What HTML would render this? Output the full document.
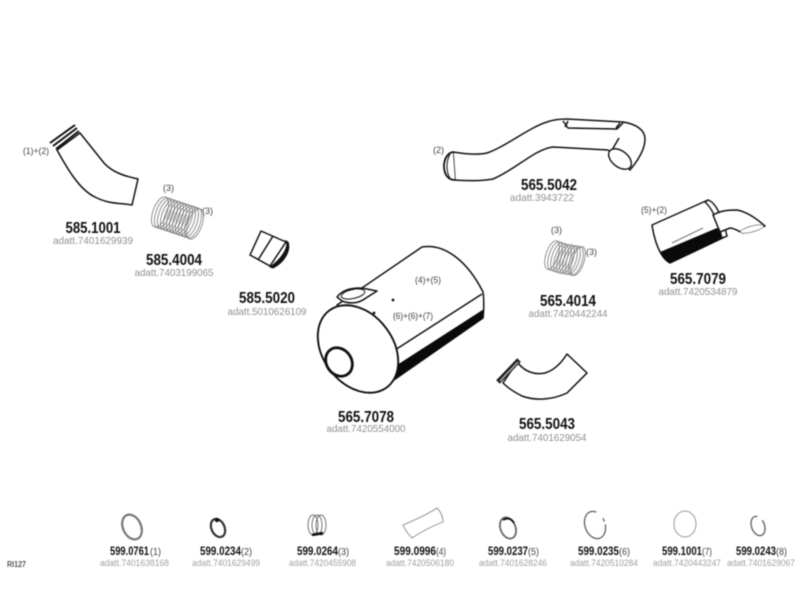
<!DOCTYPE html>
<html><head><meta charset="utf-8"><style>
html,body{margin:0;padding:0;background:#fff}
svg{display:block;filter:blur(.5px)}
text{font-family:"Liberation Sans",sans-serif}
.b{font-weight:bold;fill:#111;font-size:16px;text-anchor:middle}
.g{fill:#909090;font-size:10.5px;text-anchor:middle}
.s{fill:#444;font-size:9px}
.n{fill:#444;font-size:10px}
.bb{font-weight:bold;fill:#111;font-size:12px}
.gg{fill:#a0a0a0;font-size:9.5px}
.p{fill:none;stroke:#111;stroke-width:1.5;stroke-linejoin:round}
.w{fill:#fff;stroke:#111;stroke-width:1.5;stroke-linejoin:round}
.sp ellipse{fill:none;stroke:#777;stroke-width:.8}
</style></head><body>
<svg width="800" height="600" viewBox="0 0 800 600" xmlns="http://www.w3.org/2000/svg">
<rect width="800" height="600" fill="#fff"/>

<!-- 585.1001 -->
<path class="w" d="M57 150C68 170 80 190 95 197C108 204 120 203 132 205L138 179C124 176 112 172 104 163C96 153 88 143 80 133Z"/>
<g stroke="#111" stroke-width="2"><path d="M50 143L75 125M53 146L77 128M56 149L79 131"/></g>

<!-- 585.4004 spring -->
<g class="sp">
<ellipse cx="160" cy="212" rx="7" ry="16" transform="rotate(20 160 212)"/>
<ellipse cx="163" cy="213" rx="7" ry="16" transform="rotate(20 163 213)"/>
<ellipse cx="166" cy="214" rx="7" ry="16" transform="rotate(20 166 214)"/>
<ellipse cx="169" cy="215" rx="7" ry="16" transform="rotate(20 169 215)"/>
<ellipse cx="172" cy="216" rx="7" ry="16" transform="rotate(20 172 216)"/>
<ellipse cx="175" cy="217" rx="7" ry="16" transform="rotate(20 175 217)"/>
<ellipse cx="178" cy="218" rx="7" ry="16" transform="rotate(20 178 218)"/>
<ellipse cx="181" cy="219" rx="7" ry="16" transform="rotate(20 181 219)"/>
<ellipse cx="184" cy="220" rx="7" ry="16" transform="rotate(20 184 220)"/>
<ellipse cx="187" cy="221" rx="7" ry="16" transform="rotate(20 187 221)"/>
<ellipse cx="190" cy="222" rx="7" ry="16" transform="rotate(20 190 222)"/>
<ellipse cx="193" cy="223" rx="7" ry="16" transform="rotate(20 193 223)"/>
<ellipse cx="195" cy="224" rx="7" ry="16" transform="rotate(20 195 224)"/>
</g>

<!-- 585.5020 -->
<path class="w" d="M261 231L286 242L270 266L250 255Z"/>
<path class="p" d="M273 236L258 260" stroke-width="1"/>
<path d="M286 241C289 246 283 258 270 267L273 268C285 262 291 250 288 242Z" fill="#111" stroke="#111"/>

<!-- 565.7078 muffler -->
<path class="w" d="M337 305L422 247C445 243 468 262 483 292C484 298 484 310 483 318L378 391L370 392Z"/>
<path d="M396 366L483 310L483 318L393 380C396 375 397 372 396 366Z" fill="#0a0a0a" stroke="#0a0a0a" stroke-width=".6"/>
<path class="p" d="M395 350L482 294"/>
<ellipse cx="358" cy="349" rx="48" ry="35" transform="rotate(53 358 349)" fill="#fff" stroke="#111" stroke-width="1.9"/>
<ellipse cx="339" cy="362" rx="12.5" ry="15" transform="rotate(-35 339 362)" fill="#fff" stroke="#111" stroke-width="2.8"/>
<path class="w" d="M337 297C342 290 354 286 367 289L377 291L366 298C358 304 350 304 342 301Z" stroke-width="1.1"/>
<ellipse cx="353" cy="294" rx="12" ry="4.5" transform="rotate(-12 353 294)" fill="none" stroke="#111" stroke-width="1"/>
<circle cx="393" cy="300" r="1.4" fill="#111"/><circle cx="374" cy="313" r="1.4" fill="#111"/>

<!-- 565.5042 pipe -->
<path class="w" d="M453 152C465 154 478 155 487 153C505 147 530 127 547 122C555 119 562 119 567 119L623 122C636 124 645 130 645 139C645 147 640 158 630 170L608 150L553 147C535 149 515 170 493 179C482 181 468 181 455 180Z"/>
<path d="M453 152C447 153 444 160 444 166C444 173 447 180 455 180" fill="#fff" stroke="#111" stroke-width="1.8"/>
<path d="M450 154C448 158 447 162 447 166C447 171 448 175 450 178" fill="none" stroke="#111" stroke-width="1"/>
<path class="p" d="M563 121L568 128L617 129L623 123M568 121L565 127M620 123L616 128" stroke-width=".9"/>
<path class="p" d="M612 150L619 138"/>
<ellipse cx="620" cy="159" rx="13" ry="8" transform="rotate(38 620 159)" fill="#fff" stroke="#111" stroke-width="1.4"/>

<!-- 565.7079 -->
<path class="w" d="M652 225L708 200L727 236L670 263C664 260 656 250 652 225Z"/>
<path d="M660 252L717 228L727 236L670 263C666 261 662 258 660 252Z" fill="#0a0a0a"/>
<path d="M672 243L703 228" stroke="#777" stroke-width="1"/>
<path d="M708 200C715 202 722 215 727 236L722 238C718 222 712 208 705 202Z" fill="#fff" stroke="#111" stroke-width="1.4"/>
<path class="w" d="M713 215C722 210 730 210 737 210C748 212 758 220 765 226L743 233C738 231 734 228 730 228L720 232Z" stroke-width="1.1"/>
<ellipse cx="752" cy="229" rx="12" ry="3" transform="rotate(-15 752 229)" fill="#fff" stroke="#777" stroke-width=".7"/>

<!-- 565.4014 spring -->
<g class="sp">
<ellipse cx="552" cy="255" rx="6" ry="15" transform="rotate(18 552 255)"/>
<ellipse cx="555" cy="256" rx="6" ry="15" transform="rotate(18 555 256)"/>
<ellipse cx="558" cy="257" rx="6" ry="15" transform="rotate(18 558 257)"/>
<ellipse cx="561" cy="258" rx="6" ry="15" transform="rotate(18 561 258)"/>
<ellipse cx="564" cy="259" rx="6" ry="15" transform="rotate(18 564 259)"/>
<ellipse cx="567" cy="259" rx="6" ry="15" transform="rotate(18 567 259)"/>
<ellipse cx="570" cy="260" rx="6" ry="15" transform="rotate(18 570 260)"/>
<ellipse cx="573" cy="260" rx="6" ry="15" transform="rotate(18 573 260)"/>
<ellipse cx="576" cy="261" rx="6" ry="15" transform="rotate(18 576 261)"/>
<ellipse cx="578" cy="261" rx="6" ry="15" transform="rotate(18 578 261)"/>
</g>

<!-- 565.5043 -->
<path class="w" d="M517 362C525 372 535 375 545 373C555 370 562 362 567 354L587 373L567 393C552 400 535 401 522 396C514 392 508 388 503 383Z"/>
<path d="M498 382L519 360" stroke="#222" stroke-width="5"/>
<path d="M500 381L518 362" stroke="#ccc" stroke-width="1.2"/>

<!-- bottom row parts -->
<ellipse cx="132" cy="527" rx="9" ry="13" transform="rotate(-25 132 527)" fill="none" stroke="#777" stroke-width="2.2"/>
<ellipse cx="218" cy="528" rx="6.5" ry="9.5" transform="rotate(-25 218 528)" fill="none" stroke="#333" stroke-width="2.2"/>
<circle cx="217" cy="520" r="2.2" fill="#111"/>
<g fill="none" stroke="#666" stroke-width=".9">
<ellipse cx="313" cy="525" rx="5" ry="10"/><ellipse cx="317" cy="525" rx="5" ry="10"/><ellipse cx="321" cy="525" rx="5" ry="10"/>
</g>
<path d="M312 535L323 533" stroke="#111" stroke-width="2.5"/>
<path d="M403 525C415 520 428 514 437 508C441 512 443 517 443 522C432 526 421 532 412 538C408 534 405 530 403 525Z" fill="#fff" stroke="#888" stroke-width=".9"/>
<ellipse cx="508" cy="528" rx="7.5" ry="11" transform="rotate(-22 508 528)" fill="none" stroke="#666" stroke-width="1.8"/>
<path d="M503 520C507 517 512 519 514 523" fill="none" stroke="#111" stroke-width="1.8"/>
<ellipse cx="595" cy="525" rx="10" ry="14" transform="rotate(-20 595 525)" fill="none" stroke="#555" stroke-width="1.2" stroke-dasharray="60 9" stroke-dashoffset="-3"/>
<ellipse cx="685" cy="524" rx="11" ry="13" fill="none" stroke="#999" stroke-width="1"/>
<ellipse cx="758" cy="526" rx="6.5" ry="10" transform="rotate(-20 758 526)" fill="none" stroke="#666" stroke-width="1.4" stroke-dasharray="42 6"/>

<!-- labels -->
<text class="s" x="23" y="154" textLength="26" lengthAdjust="spacingAndGlyphs">(1)+(2)</text>
<text class="s" x="163" y="191">(3)</text>
<text class="s" x="202" y="214">(3)</text>
<text class="s" x="415" y="283" textLength="26" lengthAdjust="spacingAndGlyphs">(4)+(5)</text>
<text class="s" x="393" y="319" textLength="40" lengthAdjust="spacingAndGlyphs">(6)+(6)+(7)</text>
<text class="s" x="551" y="233">(3)</text>
<text class="s" x="586" y="255">(3)</text>
<text class="s" x="433" y="153">(2)</text>
<text class="s" x="641" y="213" textLength="26" lengthAdjust="spacingAndGlyphs">(5)+(2)</text>

<text class="b" x="93" y="233" textLength="55" lengthAdjust="spacingAndGlyphs">585.1001</text>
<text class="g" x="93" y="244" textLength="80" lengthAdjust="spacingAndGlyphs">adatt.7401629939</text>
<text class="b" x="174" y="265" textLength="56" lengthAdjust="spacingAndGlyphs">585.4004</text>
<text class="g" x="174" y="276" textLength="79" lengthAdjust="spacingAndGlyphs">adatt.7403199065</text>
<text class="b" x="267" y="303" textLength="56" lengthAdjust="spacingAndGlyphs">585.5020</text>
<text class="g" x="267" y="315" textLength="79" lengthAdjust="spacingAndGlyphs">adatt.5010626109</text>
<text class="b" x="366" y="422" textLength="56" lengthAdjust="spacingAndGlyphs">565.7078</text>
<text class="g" x="366" y="432" textLength="79" lengthAdjust="spacingAndGlyphs">adatt.7420554000</text>
<text class="b" x="547" y="429" textLength="56" lengthAdjust="spacingAndGlyphs">565.5043</text>
<text class="g" x="547" y="441" textLength="79" lengthAdjust="spacingAndGlyphs">adatt.7401629054</text>
<text class="b" x="568" y="306" textLength="56" lengthAdjust="spacingAndGlyphs">565.4014</text>
<text class="g" x="568" y="317" textLength="79" lengthAdjust="spacingAndGlyphs">adatt.7420442244</text>
<text class="b" x="549" y="190" textLength="56" lengthAdjust="spacingAndGlyphs">565.5042</text>
<text class="g" x="542" y="201" textLength="64" lengthAdjust="spacingAndGlyphs">adatt.3943722</text>
<text class="b" x="698" y="284" textLength="56" lengthAdjust="spacingAndGlyphs">565.7079</text>
<text class="g" x="698" y="295" textLength="79" lengthAdjust="spacingAndGlyphs">adatt.7420534879</text>

<text class="bb" x="110" y="555" textLength="39" lengthAdjust="spacingAndGlyphs">599.0761</text><text class="n" x="150" y="555" textLength="11" lengthAdjust="spacingAndGlyphs">(1)</text>
<text class="gg" x="100" y="566" textLength="69" lengthAdjust="spacingAndGlyphs">adatt.7401638168</text>
<text class="bb" x="200" y="555" textLength="41" lengthAdjust="spacingAndGlyphs">599.0234</text><text class="n" x="241" y="555" textLength="11" lengthAdjust="spacingAndGlyphs">(2)</text>
<text class="gg" x="192" y="566" textLength="68" lengthAdjust="spacingAndGlyphs">adatt.7401629499</text>
<text class="bb" x="297" y="555" textLength="41" lengthAdjust="spacingAndGlyphs">599.0264</text><text class="n" x="338" y="555" textLength="11" lengthAdjust="spacingAndGlyphs">(3)</text>
<text class="gg" x="289" y="566" textLength="67" lengthAdjust="spacingAndGlyphs">adatt.7420455908</text>
<text class="bb" x="394" y="555" textLength="42" lengthAdjust="spacingAndGlyphs">599.0996</text><text class="n" x="436" y="555" textLength="10" lengthAdjust="spacingAndGlyphs">(4)</text>
<text class="gg" x="386" y="566" textLength="68" lengthAdjust="spacingAndGlyphs">adatt.7420506180</text>
<text class="bb" x="488" y="555" textLength="40" lengthAdjust="spacingAndGlyphs">599.0237</text><text class="n" x="528" y="555" textLength="11" lengthAdjust="spacingAndGlyphs">(5)</text>
<text class="gg" x="479" y="566" textLength="68" lengthAdjust="spacingAndGlyphs">adatt.7401628246</text>
<text class="bb" x="578" y="555" textLength="41" lengthAdjust="spacingAndGlyphs">599.0235</text><text class="n" x="619" y="555" textLength="11" lengthAdjust="spacingAndGlyphs">(6)</text>
<text class="gg" x="570" y="566" textLength="68" lengthAdjust="spacingAndGlyphs">adatt.7420510284</text>
<text class="bb" x="662" y="555" textLength="40" lengthAdjust="spacingAndGlyphs">599.1001</text><text class="n" x="702" y="555" textLength="10" lengthAdjust="spacingAndGlyphs">(7)</text>
<text class="gg" x="653" y="566" textLength="68" lengthAdjust="spacingAndGlyphs">adatt.7420443247</text>
<text class="bb" x="736" y="555" textLength="40" lengthAdjust="spacingAndGlyphs">599.0243</text><text class="n" x="776" y="555" textLength="11" lengthAdjust="spacingAndGlyphs">(8)</text>
<text class="gg" x="727" y="566" textLength="68" lengthAdjust="spacingAndGlyphs">adatt.7401629067</text>
<text x="7" y="567" font-size="8" font-weight="bold" fill="#555" textLength="19" lengthAdjust="spacingAndGlyphs">RI127</text>
</svg>
</body></html>
